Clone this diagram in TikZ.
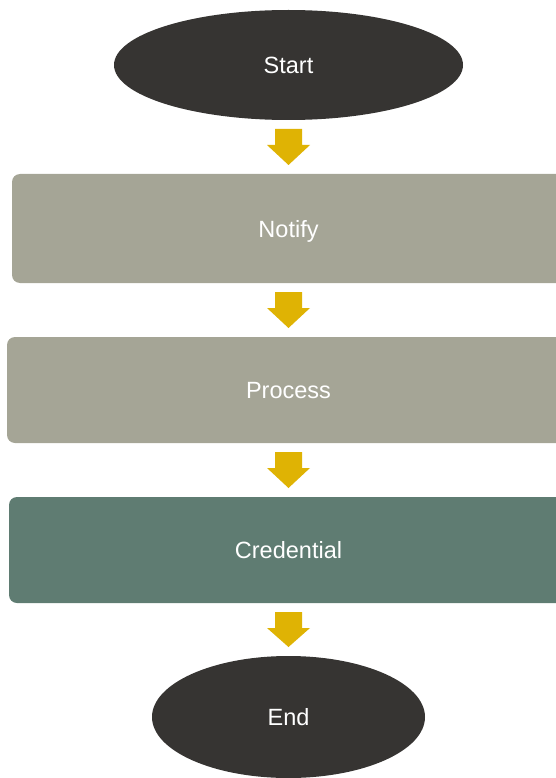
\documentclass[tikz,border=0pt]{standalone}
\usepackage{fontspec}
\setmainfont{Liberation Sans}
\usetikzlibrary{shapes.geometric,calc}
\definecolor{darkfill}{HTML}{363432}
\definecolor{stone}{HTML}{A5A596}
\definecolor{sage}{HTML}{5F7C72}
\definecolor{gold}{HTML}{DFB304}
\tikzset{
  term/.style={ellipse, fill=darkfill, inner sep=0pt, outer sep=0pt, text=white, text depth=0pt, font=\fontsize{23.5}{28}\selectfont},
  stepbox/.style={rectangle, rounded corners=8pt, inner sep=0pt, outer sep=0pt, text=white, text depth=0pt, font=\fontsize{23.5}{28}\selectfont},
  flowarrow/.style={fill=gold}
}
\newcommand\blockarrow[3]{%
  \path ($(#1.south)+(0,9)$) coordinate (#3top) ($(#2.north)+(0,-9)$) coordinate (#3tip);
  \fill[flowarrow] ($(#3top)+(-13.5,0)$) -- ($(#3top)+(13.5,0)$) -- ($(#3top)+(13.5,16)$) -- ($(#3top)+(21.5,16)$) -- (#3tip) -- ($(#3top)+(-21.5,16)$) -- ($(#3top)+(-13.5,16)$) -- cycle;%
}
\begin{document}
\begin{tikzpicture}[x=1pt,y=-1pt]
\useasboundingbox (0,0) rectangle (556,778);
\clip (0,0) rectangle (556,778);
\node[term, minimum width=349pt, minimum height=110pt] (start) at (288.5,65) {Start};
\node[stepbox, fill=stone, minimum width=553pt, minimum height=109pt] (notify) at (288.5,228.5) {Notify};
\node[stepbox, fill=stone, minimum width=563pt, minimum height=106pt] (process) at (288.5,390) {Process};
\node[stepbox, fill=sage, minimum width=559pt, minimum height=106pt] (cred) at (288.5,550) {Credential};
\node[term, minimum width=273pt, minimum height=122pt] (end) at (288.5,717) {End};
\blockarrow{start}{notify}{aa}
\blockarrow{notify}{process}{ab}
\blockarrow{process}{cred}{ac}
\blockarrow{cred}{end}{ad}
\end{tikzpicture}
\end{document}
